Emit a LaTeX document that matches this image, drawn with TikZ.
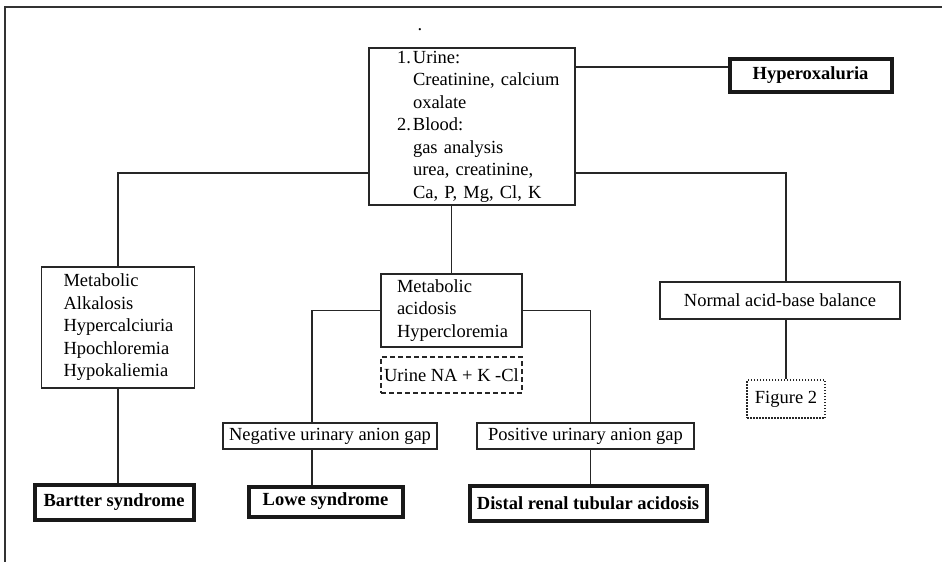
\documentclass[tikz,border=0pt]{standalone}
\usepackage{fontspec}
\setmainfont{Liberation Serif}
\begin{document}
\begin{tikzpicture}[x=1pt,y=-1pt,
  every node/.style={font=\fontsize{18.5}{22.5}\selectfont, inner sep=0pt, text=black},
  thinbox/.style={draw=black!85, line width=1.6pt},
  thickbox/.style={draw=black!90, line width=4pt, font=\fontsize{18.5}{22.5}\selectfont\bfseries},
  dashbox/.style={draw=black!85, line width=1.5pt, dash pattern=on 5pt off 3pt},
  dotbox/.style={draw=black!85, line width=1.1pt, dash pattern=on 1.5pt off 1.5pt},
  conn/.style={draw=black!85, line width=1.6pt}]
\useasboundingbox (0,0) rectangle (942,562);
\draw[line width=1.6pt, black!80] (942,7) -- (5,7) -- (5,562);

\node (dot) at (420,30) {.};

\node[thinbox, minimum width=206pt, minimum height=157pt, text width=194pt, align=left] (top) at (472,126.5) {%
\hspace*{22pt}\makebox[16pt][l]{1.}Urine:\\
\hspace*{38pt}Creatinine, calcium\\
\hspace*{38pt}oxalate\\
\hspace*{22pt}\makebox[16pt][l]{2.}Blood:\\
\hspace*{38pt}gas analysis\\
\hspace*{38pt}urea, creatinine,\\
\hspace*{38pt}Ca, P, Mg, Cl, K};

\node[thickbox, minimum width=162pt, minimum height=33pt] (hyper) at (810.5,75) {Hyperoxaluria};

\node[thinbox, minimum width=153pt, minimum height=121pt, text width=141pt, align=left] (alk) at (118,327.5) {%
\hspace*{16pt}Metabolic\\
\hspace*{16pt}Alkalosis\\
\hspace*{16pt}Hypercalciuria\\
\hspace*{16pt}Hpochloremia\\
\hspace*{16pt}Hypokaliemia};

\node[thinbox, minimum width=141pt, minimum height=73pt, text width=129pt, align=left] (macid) at (451.5,310.5) {%
\hspace*{10pt}Metabolic\\
\hspace*{10pt}acidosis\\
\hspace*{10pt}Hypercloremia};

\node[dashbox, minimum width=141pt, minimum height=36pt] (urine) at (451.5,375) {Urine NA + K -Cl};

\node[thinbox, minimum width=240pt, minimum height=37pt] (norm) at (780,300.5) {Normal acid-base balance};
\node[dotbox, minimum width=78pt, minimum height=38pt] (fig) at (786,399) {Figure 2};

\node[thinbox, minimum width=214pt, minimum height=26pt] (neg) at (330,436) {Negative urinary anion gap};
\node[thinbox, minimum width=217pt, minimum height=26pt] (pos) at (585.5,436) {Positive urinary anion gap};

\node[thickbox, minimum width=159pt, minimum height=35pt] (bartter) at (114,502) {Bartter syndrome};
\node[thickbox, minimum width=154pt, minimum height=30pt] (lowe) at (325.5,501.5) {Lowe syndrome};
\node[thickbox, minimum width=237pt, minimum height=35pt] (distal) at (588,503) {Distal renal tubular acidosis};

\coordinate (hA) at ([yshift=-20pt]top.north east);
\draw[conn] (hA) -- (hA -| hyper.west);
\coordinate (lA) at ([yshift=-126pt]top.north west);
\draw[conn] (lA) -| (alk.north);
\coordinate (rA) at ([yshift=-126pt]top.north east);
\draw[conn] (rA) -| (fig.north |- norm.north);
\draw[conn] (norm.south -| fig.north) -- (fig.north);
\draw[conn] (top.south -| macid.north) -- (macid.north);
\draw[conn] (alk.south) -- (alk.south |- bartter.north);
\coordinate (mL) at ([xshift=-18pt]neg.north);
\draw[conn] (macid.west) -| (mL);
\draw[conn] (mL |- neg.south) -- (mL |- lowe.north);
\coordinate (mR) at ([xshift=5pt]pos.north);
\draw[conn] (macid.east) -| (mR);
\draw[conn] (mR |- pos.south) -- (mR |- distal.north);
\end{tikzpicture}
\end{document}
